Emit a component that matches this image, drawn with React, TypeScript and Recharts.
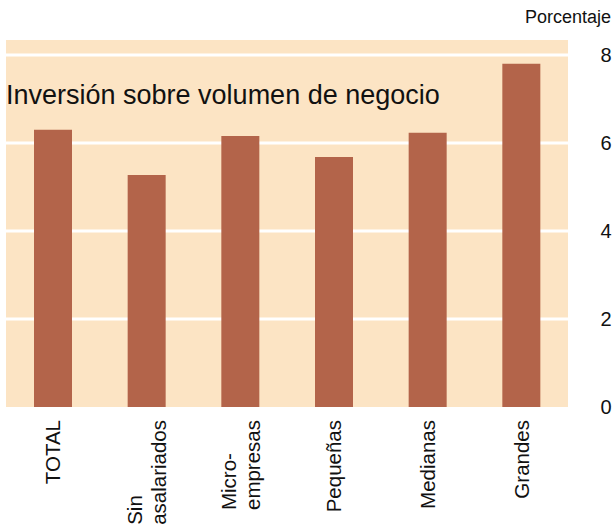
import { BarChart, Bar, XAxis, YAxis, CartesianGrid } from "recharts"

const CATEGORIES = ["TOTAL", "Sin\nasalariados", "Micro-\nempresas", "Pequeñas", "Medianas", "Grandes"]
const VALUES = [6.3, 5.27, 6.16, 5.68, 6.23, 7.8]
const Y_TICKS = [0, 2, 4, 6, 8]
const GRID_VALUES = [2, 4, 6, 8]

const DATA = CATEGORIES.map((name, i) => ({ name, value: VALUES[i] }))

const FONT = "'Liberation Sans', Arial, sans-serif"
const BG = "#FCE4C4"
const BAR = "#B3644A"

let ctx: CanvasRenderingContext2D | null = null
const measure = (s: string, size: number) => {
  if (!ctx) ctx = document.createElement("canvas").getContext("2d")
  if (!ctx) return s.length * size * 0.55
  ctx.font = `${size}px ${FONT}`
  return ctx.measureText(s).width
}

// rotated category labels, lines left-aligned, block ends at the top
const XTick = ({ x, payload }: any) => {
  const size = 20.5
  const lines = String(payload.value).split("\n")
  const w = Math.max(...lines.map((l) => measure(l, size)))
  const top = 420
  const gap = 24
  return (
    <g>
      {lines.map((l, i) => {
        const cx = x + (i - (lines.length - 1) / 2) * gap
        const sy = top + w
        return (
          <text
            key={i}
            x={cx}
            y={sy}
            transform={`rotate(-90 ${cx} ${sy})`}
            textAnchor="start"
            dominantBaseline="central"
            fontSize={size}
            fontFamily={FONT}
            fill="#111"
          >
            {l}
          </text>
        )
      })}
    </g>
  )
}

const YTick = ({ y, payload }: any) => (
  <text x={606} y={y} textAnchor="middle" dominantBaseline="central" fontSize={20} fontFamily={FONT} fill="#111">
    {payload.value}
  </text>
)

export default function App() {
  return (
    <div style={{ position: "absolute", left: 0, top: 0, width: 613, height: 531, background: "#fff" }}>
      <BarChart width={613} height={531} data={DATA} margin={{ top: 40, right: 0, left: 6, bottom: 0 }}>
        <CartesianGrid vertical={false} horizontalValues={GRID_VALUES} stroke="#fff" strokeWidth={3} fill={BG} fillOpacity={1} />
        <XAxis dataKey="name" interval={0} height={124} axisLine={false} tickLine={false} tick={<XTick />} />
        <YAxis
          orientation="right"
          width={45}
          domain={[0, 8.34]}
          ticks={Y_TICKS}
          axisLine={false}
          tickLine={false}
          tick={<YTick />}
        />
        <Bar dataKey="value" fill={BAR} barSize={38} isAnimationActive={false} />
      </BarChart>
      <div style={{ position: "absolute", left: 6, top: 78, fontFamily: FONT, fontSize: 27, color: "#111", whiteSpace: "nowrap", lineHeight: "34px" }}>
        Inversión sobre volumen de negocio
      </div>
      <div style={{ position: "absolute", right: 2, top: 6, fontFamily: FONT, fontSize: 18, color: "#111", whiteSpace: "nowrap", lineHeight: "22px" }}>
        Porcentaje
      </div>
    </div>
  )
}
